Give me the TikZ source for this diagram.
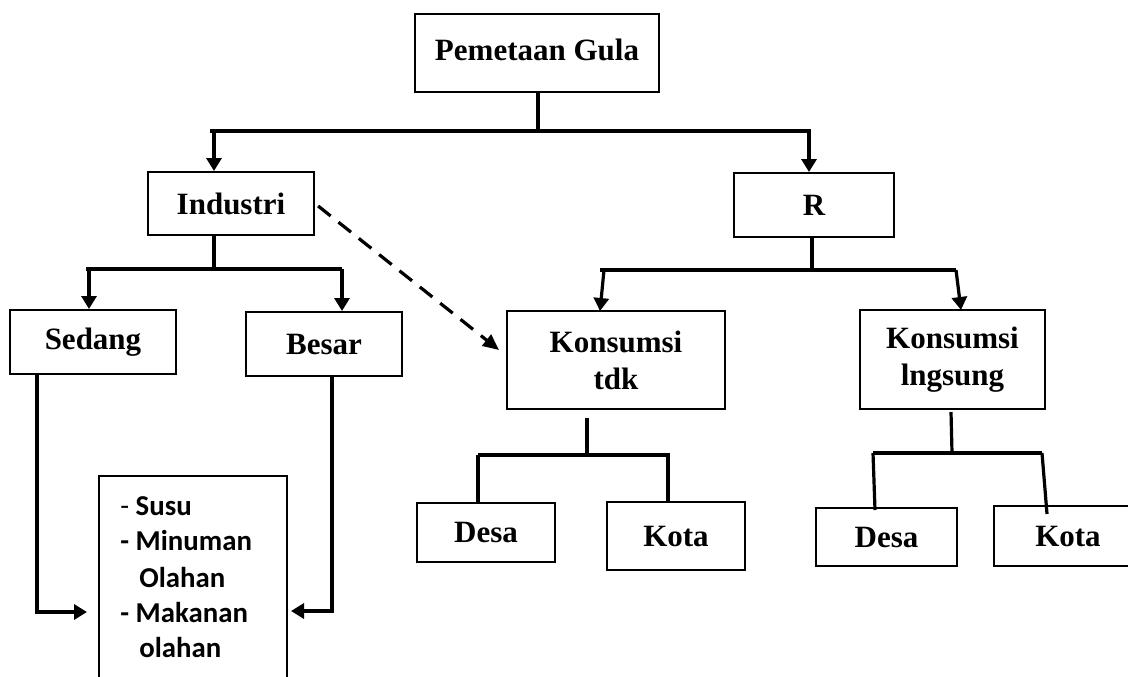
\documentclass[tikz,border=0pt]{standalone}
\usepackage{fontspec}
\setmainfont{Liberation Serif}
\newfontfamily\calib{Carlito}
\usetikzlibrary{arrows.meta}
\begin{document}
\begin{tikzpicture}[x=0.5pt,y=-0.5pt,
  box/.style={draw, line width=1pt, rectangle, inner sep=0pt,
    font=\bfseries\fontsize{15.5}{18.5}\selectfont, align=center},
  conn/.style={line width=1.6pt, line join=miter},
  arr/.style={conn, -{Triangle[length=6.5pt,width=7.5pt]}},
  dasharr/.style={line width=1.6pt, dash pattern=on 8pt off 5pt,
    -{Triangle[length=8pt,width=7pt]}},
  lst/.style={font=\calib\bfseries\fontsize{14.4}{17.6}\selectfont,
    anchor=base west, inner sep=0pt}]
\clip (0,0) rectangle (1128,676);
\fill[white] (0,0) rectangle (1128,676);

% boxes
\node[box, minimum width=122pt, minimum height=39pt] (top) at (537,53) {\raisebox{3pt}{Pemetaan Gula}};
\node[box, minimum width=83pt, minimum height=31.5pt] (ind) at (231,203.5) {Industri};
\node[box, minimum width=80pt, minimum height=32pt] (R) at (814,205) {R};
\node[box, minimum width=83pt, minimum height=32pt] (sed) at (93,342) {Sedang};
\node[box, minimum width=78pt, minimum height=32pt] (bes) at (324,344) {Besar};
\node[box, minimum width=109pt, minimum height=49pt] (kt) at (616,360) {Konsumsi\\tdk};
\node[box, minimum width=92.5pt, minimum height=49.5pt] (kl) at (952.5,359.5) {Konsumsi\\lngsung};
\node[box, minimum width=69pt, minimum height=29.5pt] (desa1) at (486,532.5) {Desa};
\node[box, minimum width=69pt, minimum height=34pt] (kota1) at (676,536) {Kota};
\node[box, minimum width=70.5pt, minimum height=29pt] (desa2) at (886.5,537) {Desa};
\node[box, minimum width=74pt, minimum height=30pt] (kota2) at (1068,536) {Kota};
\node[box, minimum width=94pt, minimum height=124pt] (list) at (193,600) {};

% list text
\node[lst] (l1) at (120,515) {{\mdseries -} Susu};
\node[lst] (l2) at (120,550) {- Minuman};
\node[lst] (l3) at (139,587) {Olahan};
\node[lst] (l4) at (120,622) {- Makanan};
\node[lst] (l5) at (139,657) {olahan};

% coordinates
\coordinate (b1L) at (210,131);
\coordinate (b1R) at (811,131);
\coordinate (c1) at (214,131);
\coordinate (c2) at (809,131);
\coordinate (c3) at (214,269);
\coordinate (b2L) at (86,269);
\coordinate (b2R) at (342,269);
\coordinate (c4) at (89,269);
\coordinate (c5) at (342,269);
\coordinate (c6) at (812,270);
\coordinate (b3L) at (600,270);
\coordinate (b3R) at (956,270);
\coordinate (c7) at (604,270);
\coordinate (c7t) at (600,311);
\coordinate (c8) at (956,270);
\coordinate (c8t) at (961,310);
\coordinate (c9) at (37,612);
\coordinate (c10) at (332,611);
\coordinate (dtip) at (499,350);
\coordinate (c11) at (587,455);
\coordinate (b4L) at (478,455);
\coordinate (b4R) at (670,455);
\coordinate (c12) at (668,455);
\coordinate (c13) at (952,453);
\coordinate (b5L) at (873,453);
\coordinate (b5R) at (1042,453);
\coordinate (c14) at (875,510);
\coordinate (c15) at (1047,514);

% top level
\draw[conn] (top.south -| 538,0) -- (538,131);
\draw[conn] (b1L) -- (b1R);
\draw[arr] (c1) -- (ind.north -| c1);
\draw[arr] (c2) -- (R.north -| c2);

% Industri
\draw[conn] (ind.south -| c3) -- (c3);
\draw[conn] (b2L) -- (b2R);
\draw[arr] (c4) -- (sed.north -| c4);
\draw[arr] (c5) -- (bes.north -| c5);

% R
\draw[conn] (R.south -| c6) -- (c6);
\draw[conn] (b3L) -- (b3R);
\draw[arr] (c7) -- (c7t);
\draw[arr] (c8) -- (c8t);

% to list
\draw[arr, shorten >=5.5pt] (sed.south -| c9) -- (c9) -- (list.west |- c9);
\draw[arr, shorten >=1.5pt] (bes.south -| c10) -- (c10) -- (list.east |- c10);

% dashed
\draw[dasharr, shorten <=2pt] (ind.east) -- (dtip);

% Konsumsi tdk
\draw[conn] ([yshift=-4pt]kt.south -| c11) -- (c11);
\draw[conn] (b4L) -- (b4R);
\draw[conn] (b4L) -- (desa1.north -| b4L);
\draw[conn] (c12) -- (kota1.north -| c12);

% Konsumsi lngsung
\draw[conn] ([yshift=-1pt]kl.south -| 951,0) -- (c13);
\draw[conn] (b5L) -- (b5R);
\draw[conn] (b5L) -- (c14);
\draw[conn] (b5R) -- (c15);
\end{tikzpicture}
\end{document}
